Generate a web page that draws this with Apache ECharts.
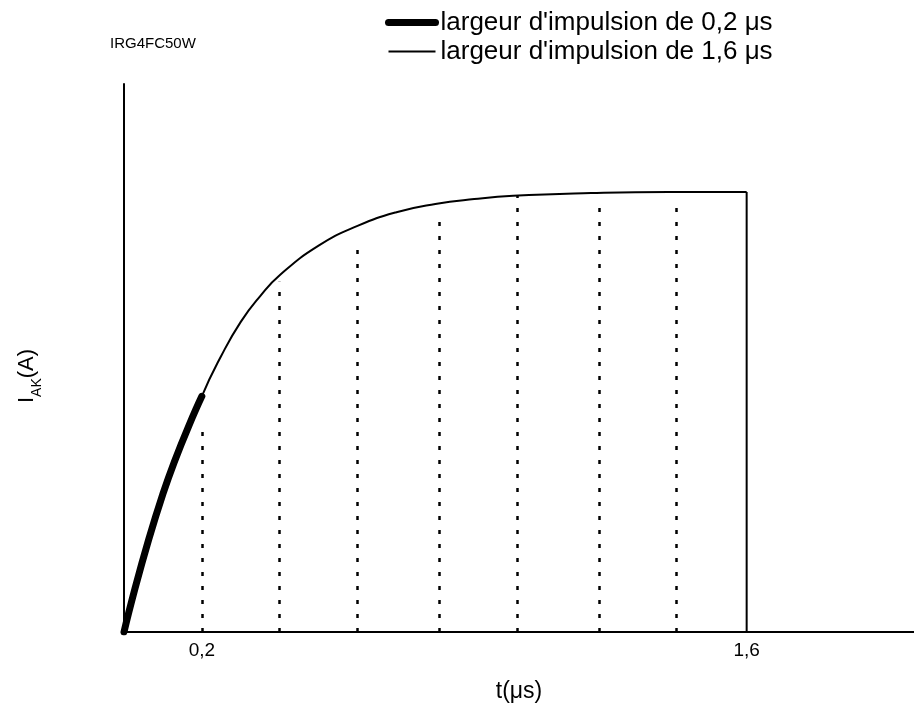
<!DOCTYPE html>
<html><head><meta charset="utf-8">
<script src="https://cdn.jsdelivr.net/npm/echarts@6/dist/echarts.min.js"></script>
<style>html,body{margin:0;padding:0;background:#fff}#c{width:914px;height:712px}</style>
</head><body><div id="c"></div>
<script>
const chartTitle = 'IRG4FC50W';
const seriesNames = ["largeur d'impulsion de 0,2 μs", "largeur d'impulsion de 1,6 μs"];
const shortPulseT = [0, 0.1, 0.2];
const shortPulseI = [0, 0.252, 0.43];
const longPulseT = [0, 0.1, 0.2, 0.25, 0.3, 0.35, 0.4, 0.5, 0.6, 0.7, 0.8, 0.9, 1.0, 1.2, 1.4, 1.6];
const longPulseI = [0, 0.252, 0.43, 0.504, 0.566, 0.613, 0.651, 0.705, 0.741, 0.766, 0.781, 0.790, 0.796, 0.801, 0.803, 0.803];
const endT = 1.6;
const endI = 0.803;
const gridT = [0.2, 0.4, 0.6, 0.81, 1.01, 1.22, 1.42];
const gridTop = [0.381, 0.639, 0.715, 0.766, 0.797, 0.788, 0.788];
const xTickValues = [0.2, 1.6];
const xName = 't(μs)';
const yName = ['I', 'AK', '(A)'];

const FONT = '"Liberation Sans", Arial, sans-serif';
const zip = (a, b) => a.map((v, i) => [v, b[i]]);

const chart = echarts.init(document.getElementById('c'), null, {renderer: 'canvas'});
chart.setOption({
  backgroundColor: '#fff',
  animation: false,
  title: {
    text: chartTitle, left: 110, top: 36, padding: 0,
    textStyle: {fontSize: 15, fontWeight: 'normal', color: '#000', fontFamily: FONT}
  },
  legend: {
    data: [
      {name: seriesNames[0], lineStyle: {width: 7, color: '#000'}, itemStyle: {opacity: 0}},
      {name: seriesNames[1], lineStyle: {width: 2, color: '#000'}, itemStyle: {opacity: 0}}
    ],
    orient: 'vertical', left: 385, top: 8, padding: 0,
    itemWidth: 47, itemHeight: 8, itemGap: 0, selectedMode: false,
    textStyle: {fontSize: 26, lineHeight: 29, color: '#000', fontFamily: FONT}
  },
  grid: {left: 124, right: 0, top: 84, bottom: 80, containLabel: false, outerBoundsMode: 'none'},
  xAxis: {
    type: 'value', min: 0, max: 2.03,
    name: xName, nameLocation: 'middle', nameGap: 48,
    nameTextStyle: {fontSize: 23, color: '#000', fontFamily: FONT},
    axisLine: {show: true, lineStyle: {color: '#000', width: 2}},
    axisTick: {show: false},
    splitLine: {show: false},
    axisLabel: {
      customValues: xTickValues, margin: 9, fontSize: 19, color: '#000', fontFamily: FONT,
      formatter: v => String(v).replace('.', ',')
    }
  },
  yAxis: {
    type: 'value', min: 0, max: 1,
    name: '{n|' + yName[0] + '}{s|' + yName[1] + '}{n|' + yName[2] + '}',
    nameLocation: 'middle', nameGap: 86, nameRotate: 90,
    nameTextStyle: {
      color: '#000', fontFamily: FONT, padding: [0, 36, 0, 0],
      rich: {
        n: {fontSize: 22, color: '#000', fontFamily: FONT, lineHeight: 30, verticalAlign: 'bottom'},
        s: {fontSize: 14, color: '#000', fontFamily: FONT, lineHeight: 30, verticalAlign: 'bottom', padding: [0, 0, -6, 0]}
      }
    },
    axisLine: {show: true, onZero: false, lineStyle: {color: '#000', width: 2}},
    axisTick: {show: false},
    axisLabel: {show: false},
    splitLine: {show: false}
  },
  series: [
    {
      name: seriesNames[1], type: 'line', data: zip(longPulseT, longPulseI),
      smooth: 0.5, symbol: 'none', z: 2,
      lineStyle: {color: '#000', width: 2},
      itemStyle: {color: '#000'},
      markLine: {
        silent: true, symbol: 'none', label: {show: false},
        lineStyle: {color: '#000', width: 2.5, type: [4, 10]},
        data: gridT.map((t, i) => [{coord: [t, 0]}, {coord: [t, gridTop[i]]}])
      }
    },
    {
      type: 'line', data: [[endT, endI], [endT, 0]], symbol: 'none', z: 2,
      lineStyle: {color: '#000', width: 2}
    },
    {
      name: seriesNames[0], type: 'line', data: zip(shortPulseT, shortPulseI),
      smooth: 0.5, symbol: 'none', z: 3,
      lineStyle: {color: '#000', width: 7, cap: 'round'},
      itemStyle: {color: '#000'}
    }
  ]
});
</script></body></html>
